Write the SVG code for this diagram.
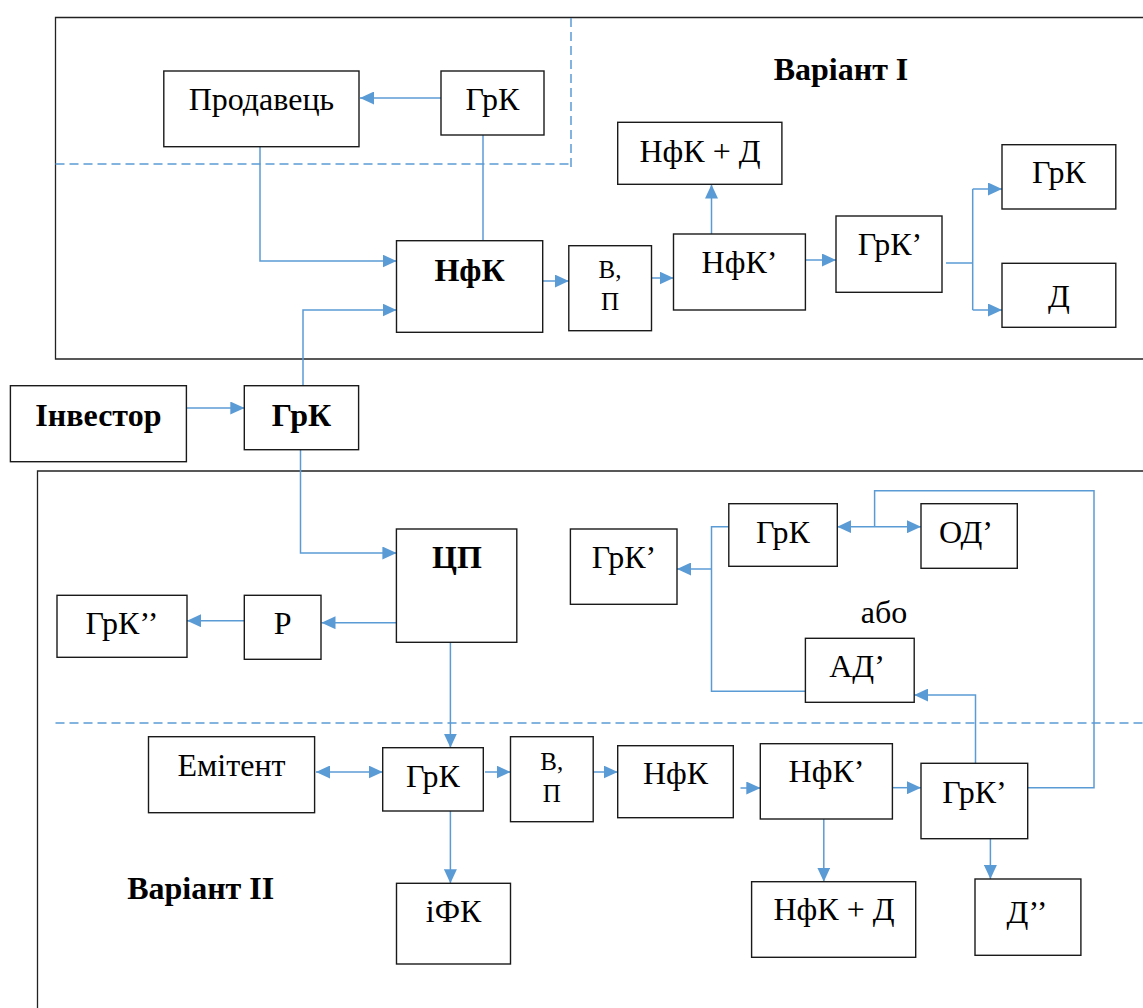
<svg xmlns="http://www.w3.org/2000/svg" width="1143" height="1008" viewBox="0 0 1143 1008">
<style>
.box{fill:#fff;stroke:#1a1a1a;stroke-width:1.4}
.frame{fill:none;stroke:#222;stroke-width:1.3}
.c{fill:none;stroke:#5B9BD5;stroke-width:1.5}
.a{marker-end:url(#ah)}
.d{marker-start:url(#ah);marker-end:url(#ah)}
.dash{fill:none;stroke:#5B9BD5;stroke-width:1.5;stroke-dasharray:9 5}
.t{font-family:"Times New Roman",Tinos,"Liberation Serif","Noto Serif","DejaVu Serif",serif;font-size:32px;fill:#000;text-anchor:middle}
.s{font-size:25px}
.b{font-weight:bold}
</style>
<defs>
<marker id="ah" viewBox="0 0 14 13" refX="14" refY="6.5" markerWidth="14" markerHeight="13" markerUnits="userSpaceOnUse" orient="auto-start-reverse">
<path d="M0,0 L14,6.5 L0,13 Z" fill="#5B9BD5"/>
</marker>
</defs>
<rect width="1143" height="1008" fill="#fff"/>
<g id="frames">
<path class="frame" d="M1150,17.5 H55.5 V359 H1150"/>
<path class="frame" d="M1150,471 H37.5 V1015"/>
<path class="dash" d="M571,18 V172 M55.5,164 H571"/>
<path class="dash" d="M55.5,723 H1143"/>
</g>
<g id="connectors">
<path class="c a" d="M441,98 L360,98"/>
<path class="c" d="M483,135 L483,241"/>
<path class="c a" d="M260,147 L260,261 L396.5,261"/>
<path class="c a" d="M303,386 L303,310 L396.5,310"/>
<path class="c a" d="M543,281 L568.8,281"/>
<path class="c a" d="M651.5,278 L673.5,278"/>
<path class="c a" d="M711.5,240 L711.5,184.5"/>
<path class="c a" d="M805.4,260 L836,260"/>
<path class="c" d="M946,263 L972.7,263 M972.7,189 L972.7,310"/>
<path class="c a" d="M972.7,189 L1002,189"/>
<path class="c a" d="M972.7,310 L1002,310"/>
<path class="c a" d="M184,408 L244.3,408"/>
<path class="c a" d="M300.5,450 L300.5,553 L396.4,553"/>
<path class="c a" d="M399,622.7 L321.5,622.7"/>
<path class="c a" d="M244,620.7 L187,620.7"/>
<path class="c a" d="M450.4,642.3 L450.4,747.7"/>
<path class="c d" d="M316,772 L382.7,772"/>
<path class="c a" d="M485,772 L510.5,772"/>
<path class="c a" d="M450.4,811 L450.4,883.3"/>
<path class="c a" d="M593.2,772 L617.7,772"/>
<path class="c a" d="M740.5,788 L760.3,788"/>
<path class="c a" d="M892.4,787.7 L921,787.7"/>
<path class="c a" d="M823.8,819 L823.8,881.7"/>
<path class="c a" d="M990.4,838.7 L990.4,879"/>
<path class="c a" d="M975.5,763.3 L975.5,695 L914.2,695"/>
<path class="c" d="M1027.7,787.7 L1094,787.7 L1094,490.7 L874.6,490.7 L874.6,526.7"/>
<path class="c d" d="M837.3,526.7 L921,526.7"/>
<path class="c" d="M728.8,526.7 L711.5,526.7 L711.5,691.3 L805.4,691.3"/>
<path class="c a" d="M711.5,569 L677,569"/>
</g>
<g id="n-prodavets"><rect class="box" x="163.8" y="71" width="195.2" height="75.7"/><text class="t" x="261.4" y="110">Продавець</text></g>
<g id="n-grk-top"><rect class="box" x="441" y="71" width="103" height="64"/><text class="t" x="492.5" y="110">ГрК</text></g>
<g id="n-nfk-1"><rect class="box" x="396.5" y="240.7" width="146.2" height="91.6"/><text class="t b" x="469.6" y="281">НфК</text></g>
<g id="n-vp-1"><rect class="box" x="568.8" y="245.7" width="82.7" height="85"/><text class="t s" x="610" y="278">В,<tspan x="610" dy="32">П</tspan></text></g>
<g id="n-nfk2-1"><rect class="box" x="673.5" y="234" width="131.9" height="76"/><text class="t" x="739.5" y="273.3">НфК’</text></g>
<g id="n-nfkd-1"><rect class="box" x="617.7" y="122.3" width="164.2" height="62"/><text class="t" x="700" y="161.7">НфК + Д</text></g>
<g id="n-grk2-1"><rect class="box" x="836" y="216" width="106" height="76.3"/><text class="t" x="890" y="255">ГрК’</text></g>
<g id="n-grk-r"><rect class="box" x="1002" y="144.7" width="113.8" height="64.3"/><text class="t" x="1058.9" y="183.3">ГрК</text></g>
<g id="n-d-r"><rect class="box" x="1002" y="263.3" width="113.8" height="64"/><text class="t" x="1058.9" y="306.7">Д</text></g>
<g id="t-var1"><text class="t b" x="841" y="80">Варіант І</text></g>
<g id="n-investor"><rect class="box" x="10.4" y="385.7" width="176" height="76"/><text class="t b" x="98.4" y="425.7">Інвестор</text></g>
<g id="n-grk-inv"><rect class="box" x="244.3" y="385.7" width="114.3" height="64"/><text class="t b" x="301.5" y="425.7">ГрК</text></g>
<g id="n-cp"><rect class="box" x="396.4" y="529" width="120.4" height="113.3"/><text class="t b" x="457" y="568.3">ЦП</text></g>
<g id="n-r"><rect class="box" x="244.3" y="595.3" width="76.7" height="64"/><text class="t" x="282.6" y="634">Р</text></g>
<g id="n-grk3"><rect class="box" x="57" y="595.3" width="130" height="62"/><text class="t" x="122" y="634">ГрК’’</text></g>
<g id="n-grk2-2"><rect class="box" x="570.4" y="529" width="106.6" height="75.3"/><text class="t" x="624" y="567.7">ГрК’</text></g>
<g id="n-grk-2"><rect class="box" x="728.8" y="503.7" width="108.5" height="62.6"/><text class="t" x="783" y="543.3">ГрК</text></g>
<g id="n-od"><rect class="box" x="921" y="503.7" width="96.3" height="64.6"/><text class="t" x="966" y="543.3">ОД’</text></g>
<g id="t-abo"><text class="t" x="884" y="623.3">або</text></g>
<g id="n-ad"><rect class="box" x="805.4" y="638.3" width="108.8" height="64"/><text class="t" x="857" y="676.7">АД’</text></g>
<g id="n-emitent"><rect class="box" x="148.5" y="736.7" width="166.1" height="76"/><text class="t" x="231.5" y="776">Емітент</text></g>
<g id="n-grk-b"><rect class="box" x="382.7" y="747.7" width="100.6" height="63.3"/><text class="t" x="433" y="786.7">ГрК</text></g>
<g id="n-vp-2"><rect class="box" x="510.5" y="736.7" width="82.7" height="85"/><text class="t s" x="551.8" y="770">В,<tspan x="551.8" dy="31.7">П</tspan></text></g>
<g id="n-ifk"><rect class="box" x="396.5" y="883.3" width="114" height="80.7"/><text class="t" x="453.5" y="921.7">іФК</text></g>
<g id="t-var2"><text class="t b" x="200.7" y="899.3">Варіант ІІ</text></g>
<g id="n-nfk-2"><rect class="box" x="617.7" y="745.7" width="115.6" height="72"/><text class="t" x="675.5" y="784.3">НфК</text></g>
<g id="n-nfk2-2"><rect class="box" x="760.3" y="743.7" width="132.1" height="75.3"/><text class="t" x="826.5" y="782.3">НфК’</text></g>
<g id="n-grk2-3"><rect class="box" x="921" y="763.3" width="106.7" height="75.4"/><text class="t" x="974.5" y="803.3">ГрК’</text></g>
<g id="n-nfkd-2"><rect class="box" x="751.6" y="881.7" width="164.1" height="75.6"/><text class="t" x="834" y="920">НфК + Д</text></g>
<g id="n-d2"><rect class="box" x="975" y="879" width="105.9" height="76.3"/><text class="t" x="1027" y="922.7">Д’’</text></g>
</svg>
